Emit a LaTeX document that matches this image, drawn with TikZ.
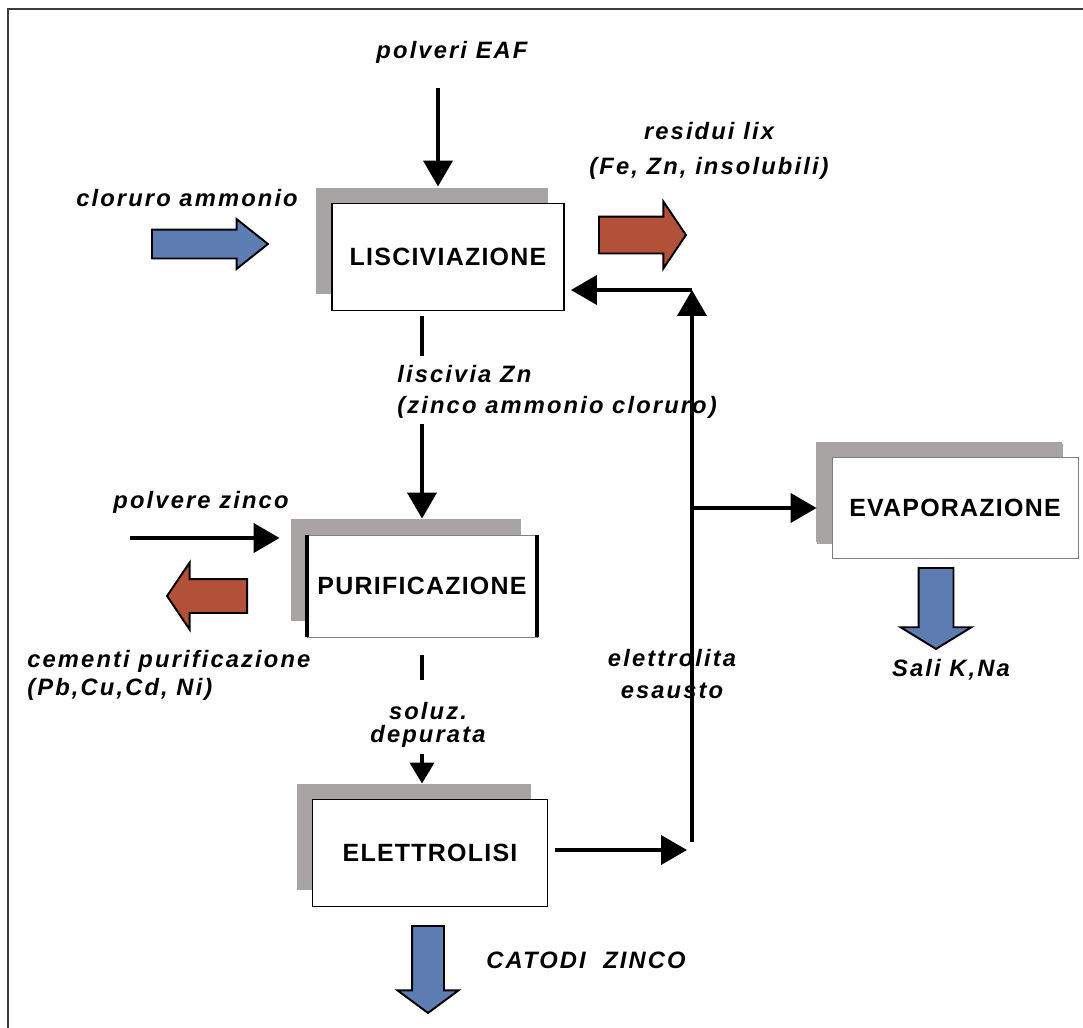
\documentclass[tikz,border=0pt]{standalone}
\usepackage{fontspec}
\setmainfont{Liberation Sans}
\newfontfamily\labfont[LetterSpace=9]{Liberation Sans}
\newfontfamily\unitfont[LetterSpace=5]{Liberation Sans}
\usetikzlibrary{arrows.meta,shapes.arrows,shadows,positioning}

\definecolor{shadowgray}{RGB}{168,164,164}
\definecolor{blueflow}{RGB}{92,124,178}
\definecolor{redflow}{RGB}{178,80,58}
\definecolor{framegray}{RGB}{60,60,60}

\tikzset{
  unit/.style={draw, fill=white, line width=1.1pt, inner sep=0pt,
    font=\unitfont\bfseries\fontsize{14.2}{16}\selectfont,
    general shadow={fill=shadowgray, shadow xshift=-0.32cm, shadow yshift=0.32cm}},
  lab/.style={font=\labfont\bfseries\itshape\fontsize{13.5}{18}\selectfont, align=center, inner sep=0pt},
  pipe/.style={line width=2.3pt},
  flow/.style={pipe, -{Triangle[length=0.52cm,width=0.58cm]}},
  blockarrow/.style={single arrow, draw=black, line width=1.1pt, minimum width=0pt, anchor=tail},
  bluearrow/.style={blockarrow, fill=blueflow},
  redarrow/.style={blockarrow, fill=redflow}
}

\begin{document}
\begin{tikzpicture}[x=0.02cm, y=-0.02cm]
      \useasboundingbox (0,0) rectangle (1083,1028);
      \draw[line width=1.2pt, framegray] (8,1028) -- (8,9) -- (1083,9);

      % process units
      \node[unit, minimum width=4.64cm, minimum height=2.14cm] (lisc) at (448,257) {LISCIVIAZIONE};
      \node[unit, draw=gray, line width=0.5pt, minimum width=4.6cm, minimum height=2.04cm] (puri) at (422,586) {PURIFICAZIONE};
      \draw[pipe] (puri.north west) -- (puri.south west) (puri.north east) -- (puri.south east);
      \node[unit, draw=gray, line width=0.5pt, minimum width=4.92cm, minimum height=2.02cm,
        general shadow={fill=shadowgray, shadow xshift=-0.3cm, shadow yshift=0.28cm}] (evap) at (955,508) {EVAPORAZIONE};
      \node[unit, minimum width=4.7cm, minimum height=2.14cm] (elet) at (430,853) {ELETTROLISI};

      % inputs and outputs
      \node[lab] (eaf) at (452,52) {polveri EAF};
      \coordinate (eaftop) at (438,88);
      \draw[flow] (eaftop) -- ([yshift=0.32cm]eaftop |- lisc.north);

      \node[lab] (clor) at (187,198) {cloruro ammonio};
      \node[bluearrow, minimum height=2.32cm, inner sep=0.27cm, single arrow head extend=0.21cm,
        single arrow tip angle=77] (clorin) at (151,244) {};

      \node[lab] (resid) at (709,151) {residui lix\\[2pt](Fe, Zn, insolubili)};
      \node[redarrow, minimum height=1.74cm, inner sep=0.35cm, single arrow head extend=0.3cm,
        single arrow tip angle=112] (residout) at (598,235) {};

      \draw[pipe] ([yshift=-0.1cm]lisc.south -| puri.north) -- ++(0,40);
      \node[lab, align=left, anchor=west] (lisciv) at (397,392) {liscivia Zn\\(zinco ammonio cloruro)};
      \draw[flow] ([yshift=-0.1cm]lisciv.south -| puri.north) -- ([yshift=0.32cm]puri.north);

      \node[lab] (pzn) at (201,502) {polvere zinco};
      \coordinate (pznin) at (130,538);
      \draw[flow] (pznin) -- ([xshift=-0.54cm]pznin -| puri.west);

      \node[redarrow, shape border rotate=180, minimum height=1.6cm, inner sep=0.32cm,
        single arrow head extend=0.33cm, single arrow tip angle=112] (cemout) at (248,596) {};
      \node[lab, align=left, anchor=west] (cem) at (27,675) {cementi purificazione\\[-2pt](Pb,Cu,Cd, Ni)};

      \draw[pipe] ([yshift=-0.36cm]puri.south) -- ++(0,25);
      \node[lab] (soluz) at (428,725) {soluz.\\[-5pt]depurata};
      \draw[pipe, -{Triangle[length=0.42cm,width=0.48cm]}] ([yshift=-0.12cm]soluz.south -| puri.south)
        -- ([yshift=0.3cm]elet.north -| puri.south);

      % recycle of the spent electrolyte
      \coordinate (low) at (692,842);
      \coordinate (split) at (692,508);
      \coordinate (corner) at (692,290);
      \draw[flow] ([xshift=0.14cm]elet.east |- 0,850) -- ([xshift=-0.1cm]low |- 0,850);
      \draw[flow] (low) -- (corner);
      \draw[flow] (corner) -- ([xshift=0.12cm]corner -| lisc.east);
      \draw[flow] (split) -- ([xshift=-0.3cm]split -| evap.west);
      \node[lab] (esausto) at (672,674) {elettrolita\\esausto};

      \node[bluearrow, shape border rotate=270, minimum height=1.62cm, inner sep=0.33cm,
        single arrow head extend=0.36cm, single arrow tip angle=117] (saliout) at (936,567) {};
      \node[lab] (sali) at (951,670) {Sali K,Na};

      \node[bluearrow, shape border rotate=270, minimum height=1.74cm, inner sep=0.3cm,
        single arrow head extend=0.29cm, single arrow tip angle=107] (catout) at (428,925) {};
      \node[lab] (catodi) at (586,960) {CATODI\ \ ZINCO};
    \end{tikzpicture}
\end{document}
